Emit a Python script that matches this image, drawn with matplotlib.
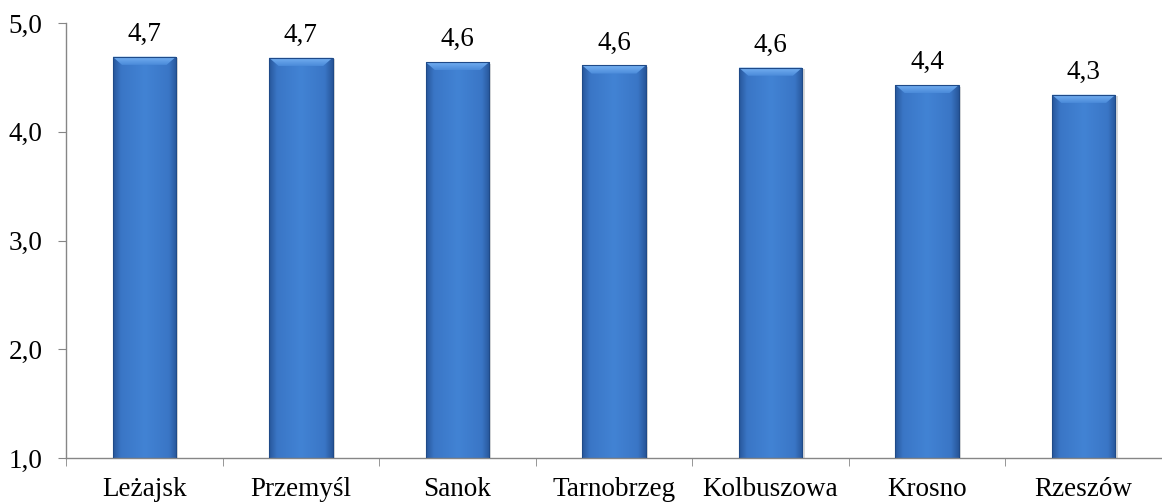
import matplotlib
matplotlib.use("Agg")
from matplotlib import pyplot as plt
from matplotlib.patches import Polygon, Rectangle
from matplotlib.colors import LinearSegmentedColormap
from matplotlib.ticker import FuncFormatter
import numpy as np

cities = ['Leżajsk', 'Przemyśl', 'Sanok', 'Tarnobrzeg', 'Kolbuszowa', 'Krosno', 'Rzeszów']
values = [4.69, 4.68, 4.64, 4.61, 4.59, 4.43, 4.34]
yticks = [1.0, 2.0, 3.0, 4.0, 5.0]

plt.rcParams['font.family'] = ['Liberation Serif', 'DejaVu Serif']

fig = plt.figure(figsize=(11.62, 5.04), dpi=100)
ax = fig.add_axes([66 / 1162, 46 / 504, 1 - 66 / 1162, 435 / 504])

bar_w = 0.405
base = 1.0
grad = LinearSegmentedColormap.from_list(
    'bar', [(0.0, '#28579c'), (0.12, '#3a76c6'), (0.5, '#4283d4'),
            (0.88, '#3a76c6'), (1.0, '#28579c')])
gimg = np.linspace(0, 1, 64).reshape(1, -1)
top_grad = LinearSegmentedColormap.from_list('top', ['#4a8ad9', '#78b3f3'])
timg = np.linspace(0, 1, 32).reshape(-1, 1)

bx = 0.06    # bevel width in data units
by = 0.075   # bevel height in data units
for i, v in enumerate(values):
    x0, x1 = i - bar_w / 2, i + bar_w / 2
    # shadow
    ax.add_patch(Rectangle((x0 + 0.015, base), bar_w, v - base - 0.015,
                           facecolor='#000000', alpha=0.15, edgecolor='none', zorder=1))
    rect = Rectangle((x0, base), bar_w, v - base, facecolor='none',
                     edgecolor='#1f4a88', linewidth=0.8, zorder=3)
    ax.add_patch(rect)
    im = ax.imshow(gimg, cmap=grad, extent=(x0, x1, base, v), aspect='auto',
                   interpolation='bicubic', zorder=2)
    im.set_clip_path(rect)
    # top bevel
    bevel = Polygon([(x0, v), (x1, v), (x1 - bx, v - by), (x0 + bx, v - by)],
                    closed=True, facecolor='none', edgecolor='none', zorder=2.5)
    ax.add_patch(bevel)
    tim = ax.imshow(timg, cmap=top_grad, extent=(x0, x1, v - by, v), aspect='auto',
                    origin='lower', interpolation='bicubic', zorder=2.5)
    tim.set_clip_path(bevel)
    ax.annotate(f'{v:.1f}'.replace('.', ','), (i, v), xytext=(0, 11.5),
                textcoords='offset points', ha='center', va='baseline', fontsize=19.5)

ax.set_xlim(-0.5, 6.425)
ax.set_ylim(1.0, 5.0)
ax.set_yticks(yticks)
ax.yaxis.set_major_formatter(FuncFormatter(lambda y, _: f'{y:.1f}'.replace('.', ',')))
ax.set_xticks(np.arange(len(cities)))
ax.set_xticklabels(cities)
ax.set_xticks(np.arange(len(cities) + 1) - 0.5, minor=True)
ax.tick_params(axis='x', which='major', length=0, pad=14, labelsize=19.5)
ax.tick_params(axis='x', which='minor', length=6, color='#868686')
ax.tick_params(axis='y', length=6, color='#868686', labelsize=19.5, pad=11)
for s in ['top', 'right']:
    ax.spines[s].set_visible(False)
for s in ['left', 'bottom']:
    ax.spines[s].set_color('#868686')
    ax.spines[s].set_linewidth(1.0)

fig.savefig('out.png', dpi=100)
